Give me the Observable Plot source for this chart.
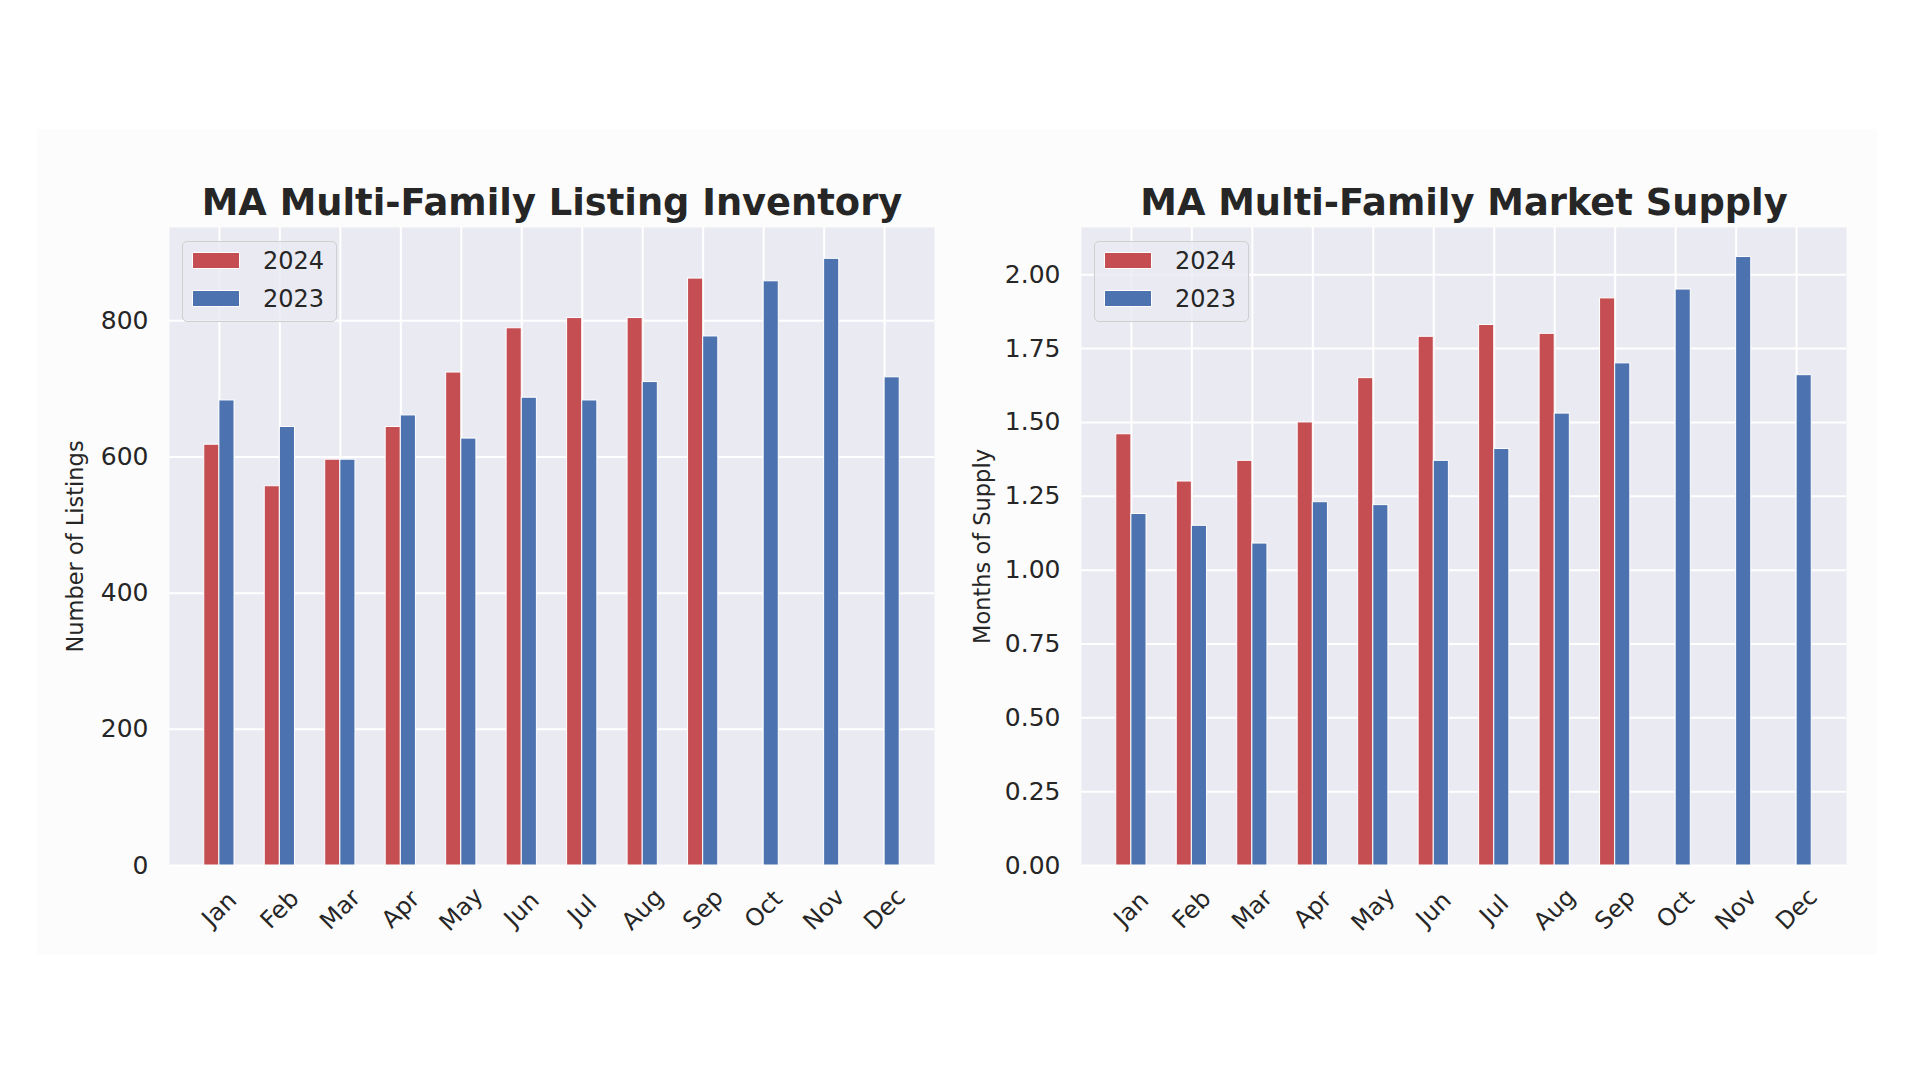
<!DOCTYPE html>
<html>
<head>
<meta charset="utf-8">
<script src="https://cdn.jsdelivr.net/npm/d3@7"></script>
<script src="https://cdn.jsdelivr.net/npm/@observablehq/plot@0.6"></script>
<style>
  html, body { margin: 0; padding: 0; background: #ffffff; }
  #page { position: relative; width: 1920px; height: 1080px; overflow: hidden;
          font-family: "DejaVu Sans", sans-serif; color: #262626; }
  .panel { position: absolute; top: 129px; width: 920px; height: 825px; background: #fcfcfc; }
  .panel svg { position: absolute; left: 0; top: 0; }
  .legend { position: absolute; top: 112px; width: 153px; height: 79px;
            border: 1px solid #cfcfcf; border-radius: 5px; background: rgba(234,234,242,0.8); }
  .patch { position: absolute; left: 9px; width: 48px; height: 17px; box-sizing: border-box;
           border: 1px solid #ffffff; }
  .ltext { position: absolute; left: 80px; font-size: 24px; line-height: 24px; color: #262626; }
</style>
</head>
<body>
<div id="page">
  <div class="panel" id="left" style="left:37px"></div>
  <div class="panel" id="right" style="left:957px"></div>
</div>
<script>
// ---- data ----
const months = ["Jan", "Feb", "Mar", "Apr", "May", "Jun", "Jul", "Aug", "Sep", "Oct", "Nov", "Dec"];
const years = ["2024", "2023"];
const colors = ["#C44E52", "#4C72B0"];

const inventory2024 = [618, 557, 596, 644, 724, 789, 804, 804, 862];
const inventory2023 = [683, 644, 596, 661, 627, 687, 683, 710, 777, 858, 891, 717];

const supply2024 = [1.46, 1.30, 1.37, 1.50, 1.65, 1.79, 1.83, 1.80, 1.92];
const supply2023 = [1.19, 1.15, 1.09, 1.23, 1.22, 1.37, 1.41, 1.53, 1.70, 1.95, 2.06, 1.66];

const inventoryTicks = [0, 200, 400, 600, 800];
const supplyTicks = [0, 0.25, 0.5, 0.75, 1.0, 1.25, 1.5, 1.75, 2.0];

const titles = ["MA Multi-Family Listing Inventory", "MA Multi-Family Market Supply"];
const yLabels = ["Number of Listings", "Months of Supply"];

// ---- chart builder ----
function chart({current, previous, ticks, yDomain, format, title, ylabel, marginLeft, marginRight, labelOffset}) {
  const monthIdx = d3.range(months.length);
  return Plot.plot({
    width: 920,
    height: 825,
    marginTop: 98,
    marginBottom: 89,
    marginLeft,
    marginRight,
    style: {background: "transparent", fontFamily: "DejaVu Sans", fontSize: "24px", color: "#262626", overflow: "visible"},
    x: {domain: [-0.825, months.length - 1 + 0.825], axis: null},
    y: {domain: yDomain, axis: null},
    marks: [
      Plot.frame({fill: "#EAEAF2", stroke: "none"}),
      Plot.gridX({ticks: monthIdx, stroke: "white", strokeOpacity: 1, strokeWidth: 2}),
      Plot.gridY({ticks, stroke: "white", strokeOpacity: 1, strokeWidth: 2}),
      Plot.rect(current, {x1: (d, i) => i - 0.25, x2: (d, i) => i, y1: 0, y2: d => d,
                          fill: colors[0], stroke: "white", strokeWidth: 1}),
      Plot.rect(previous, {x1: (d, i) => i, x2: (d, i) => i + 0.25, y1: 0, y2: d => d,
                           fill: colors[1], stroke: "white", strokeWidth: 1}),
      Plot.axisY({ticks, tickFormat: format, tickSize: 0, tickPadding: 21, fontSize: 25, label: null, fill: "#262626"}),
      Plot.text(months, {x: (d, i) => i, text: d => d, frameAnchor: "bottom", dy: 44, rotate: -45,
                         textAnchor: "middle", lineAnchor: "middle", fontSize: 24, fill: "#262626"}),
      Plot.text([ylabel], {text: d => d, frameAnchor: "left", dx: -labelOffset, rotate: -90,
                           lineAnchor: "top", textAnchor: "middle", fontSize: 22.5, fill: "#262626"}),
      Plot.text([title], {text: d => d, frameAnchor: "top", dy: -13, lineAnchor: "bottom",
                          fontSize: 36.8, fontWeight: "bold", fill: "#262626"})
    ]
  });
}

function legend(marginLeft) {
  const box = document.createElement("div");
  box.className = "legend";
  box.style.left = (marginLeft + 13) + "px";
  years.forEach((y, k) => {
    const p = document.createElement("div");
    p.className = "patch";
    p.style.top = (10 + k * 38) + "px";
    p.style.background = colors[k];
    box.appendChild(p);
    const t = document.createElement("div");
    t.className = "ltext";
    t.style.top = (7 + k * 38) + "px";
    t.textContent = y;
    box.appendChild(t);
  });
  return box;
}

const left = document.getElementById("left");
left.appendChild(chart({
  current: inventory2024, previous: inventory2023, ticks: inventoryTicks,
  yDomain: [0, 937], format: d3.format("d"), title: titles[0], ylabel: yLabels[0],
  marginLeft: 132, marginRight: 23, labelOffset: 102
}));
left.appendChild(legend(132));

const right = document.getElementById("right");
right.appendChild(chart({
  current: supply2024, previous: supply2023, ticks: supplyTicks,
  yDomain: [0, 2.16], format: d3.format(".2f"), title: titles[1], ylabel: yLabels[1],
  marginLeft: 124, marginRight: 31, labelOffset: 107
}));
right.appendChild(legend(124));
</script>
</body>
</html>
